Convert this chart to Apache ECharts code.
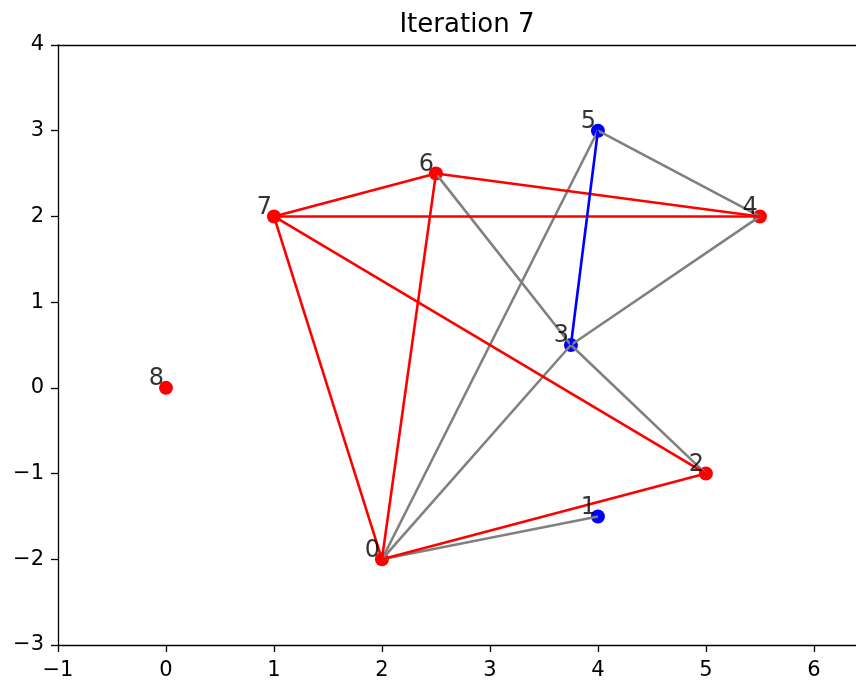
<!DOCTYPE html>
<html>
<head>
<meta charset="utf-8">
<script src="https://cdn.jsdelivr.net/npm/echarts@6/dist/echarts.min.js"></script>
<style>html,body{margin:0;padding:0;background:#fff}#c{width:856px;height:686px}</style>
</head>
<body>
<div id="c"></div>
<script>
const titleText = 'Iteration 7';
const nodeIds = ['0','1','2','3','4','5','6','7','8'];
const nodeX = [2, 4, 5, 3.75, 5.5, 4, 2.5, 1, 0];
const nodeY = [-2, -1.5, -1, 0.5, 2, 3, 2.5, 2, 0];
const nodeColors = ['#ff0000','#0000ff','#ff0000','#0000ff','#ff0000','#0000ff','#ff0000','#ff0000','#ff0000'];
const grayEdges = [[5,4],[4,3],[5,0],[3,0],[6,3],[3,2],[0,1]];
const redEdges = [[7,6],[6,4],[7,4],[7,2],[7,0],[6,0],[0,2]];
const blueEdges = [[5,3]];
const xTicks = [-1, 0, 1, 2, 3, 4, 5, 6];
const yTicks = [-3, -2, -1, 0, 1, 2, 3, 4];

const FONT = 'DejaVu Sans';
function edgeData(list){
  return list.map(e => ({coords: [[nodeX[e[0]], nodeY[e[0]]], [nodeX[e[1]], nodeY[e[1]]]]}));
}
function fmt(v){ return Number.isInteger(v) ? String(v).replace('-', '\u2212') : ''; }
function lineSeries(list, color){
  return {type:'lines', coordinateSystem:'cartesian2d', z:3, silent:true,
    lineStyle:{color:color, width:2.6, opacity:1}, data: edgeData(list)};
}
const axisLine = {show:true, onZero:false, lineStyle:{color:'#000', width:1.3}};
const chart = echarts.init(document.getElementById('c'), null, {renderer:'canvas'});
chart.setOption({
  animation:false,
  backgroundColor:'#ffffff',
  title:{text:titleText, left:462, textAlign:'center', top:7,
    textStyle:{fontFamily:FONT, fontSize:26, fontWeight:'normal', color:'#000'}},
  grid:{left:58, right:0, top:45, bottom:41, show:false},
  xAxis:[{type:'value', min:xTicks[0], max:6.39, interval:1,
    axisLine:axisLine, splitLine:{show:false},
    axisTick:{show:true, length:7, lineStyle:{color:'#000', width:1.3}},
    axisLabel:{margin:15, formatter:fmt, fontFamily:FONT, fontSize:21, color:'#000', showMaxLabel:false}},
    {type:'value', position:'top', min:xTicks[0], max:6.39, interval:1,
    axisLine:axisLine, splitLine:{show:false}, axisTick:{show:false}, axisLabel:{show:false}}],
  yAxis:{type:'value', min:yTicks[0], max:yTicks[yTicks.length-1], interval:1,
    axisLine:axisLine, splitLine:{show:false},
    axisTick:{show:true, length:7, lineStyle:{color:'#000', width:1.3}},
    axisLabel:{margin:14, formatter:fmt, fontFamily:FONT, fontSize:21, color:'#000'}},
  series:[
    {type:'scatter', z:2, symbolSize:14, silent:true,
      data: nodeX.map((x,i)=>({value:[x,nodeY[i]], itemStyle:{color:nodeColors[i], opacity:1}}))},
    lineSeries(grayEdges, '#808080'),
    lineSeries(redEdges, '#ff0000'),
    lineSeries(blueEdges, '#0000ff'),
    {type:'scatter', z:5, symbolSize:1, silent:true, itemStyle:{color:'rgba(0,0,0,0)'},
      label:{show:true, position:'inside', align:'right', verticalAlign:'middle', offset:[-2,-9],
        formatter:p=>p.data.name, fontFamily:FONT, fontSize:24, color:'#000', textBorderWidth:0},
      data: nodeX.map((x,i)=>({name:nodeIds[i], value:[x,nodeY[i]]}))}
  ]
});
</script>
</body>
</html>
